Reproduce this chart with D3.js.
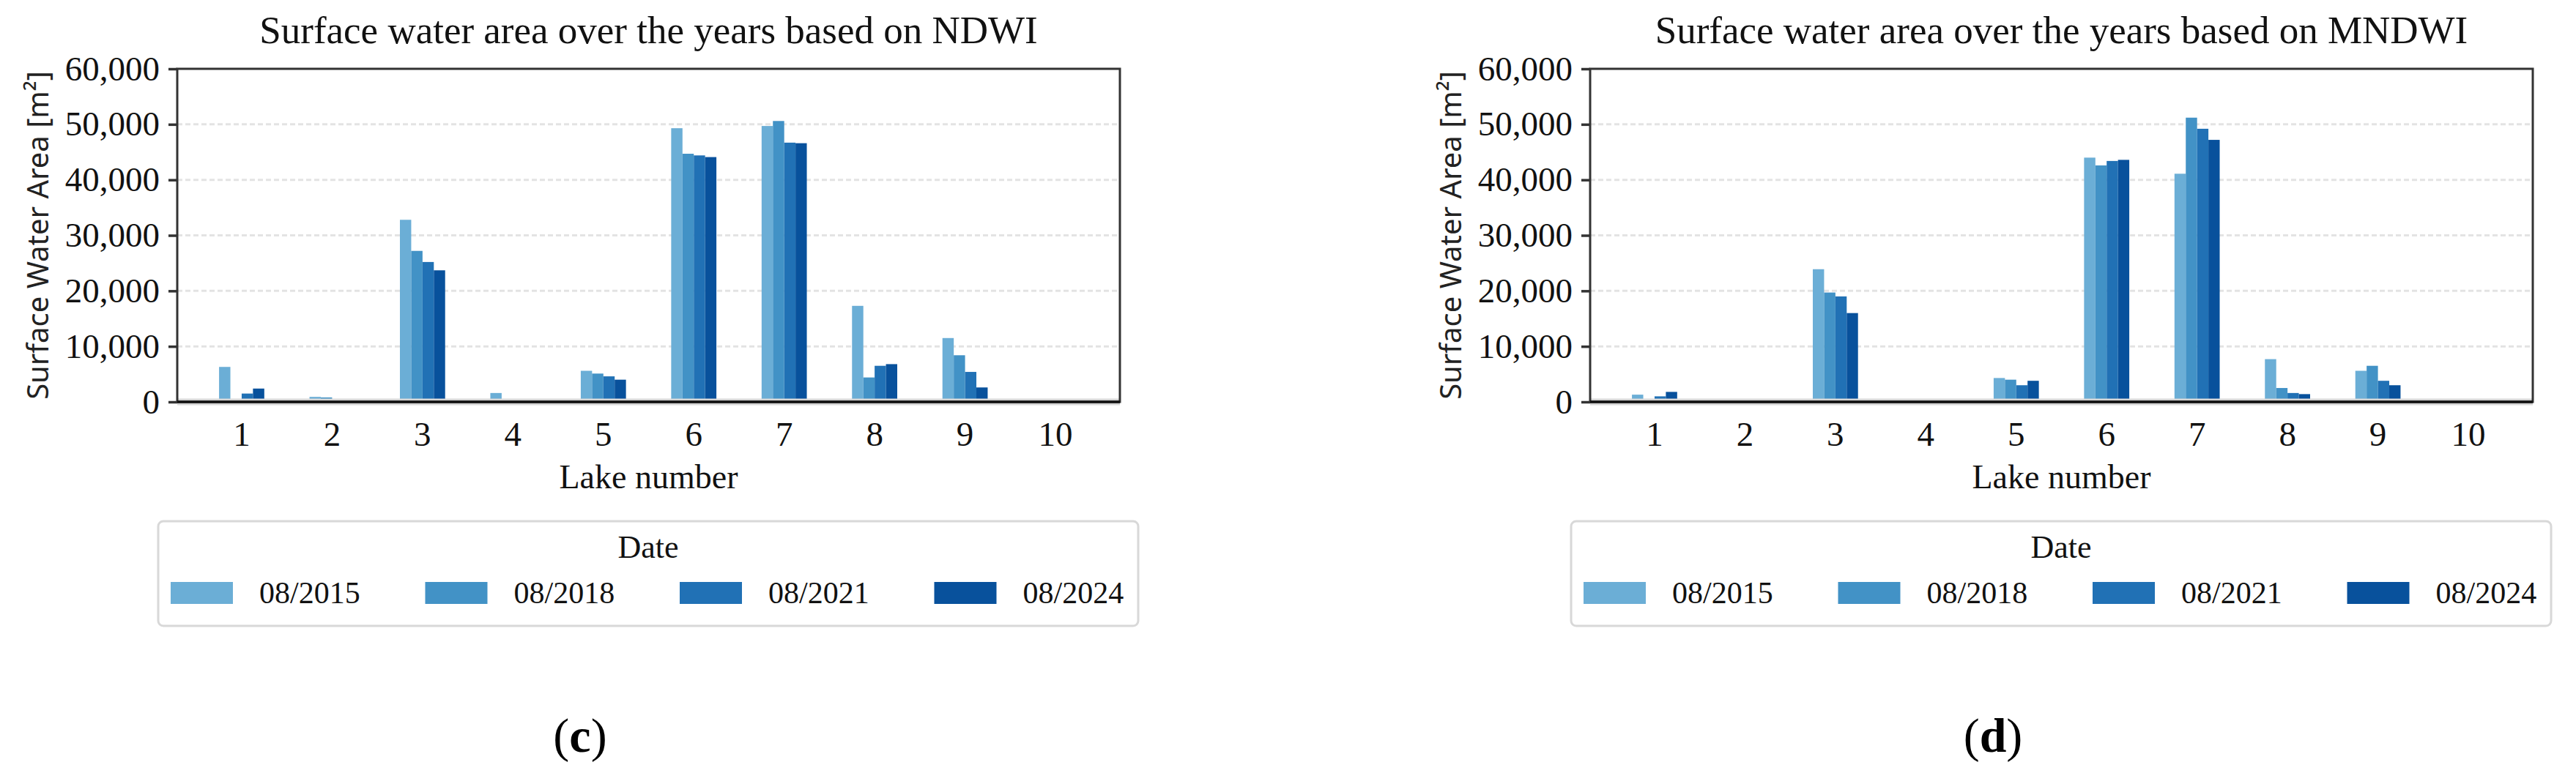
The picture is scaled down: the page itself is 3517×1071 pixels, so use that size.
<!DOCTYPE html>
<html>
<head>
<meta charset="utf-8">
<script src="https://cdn.jsdelivr.net/npm/d3@7"></script>
<style>
body { margin: 0; background: #fff; }
svg { display: block; }
</style>
</head>
<body>
<div id="chart"></div>
<script>
var lakes = ['1', '2', '3', '4', '5', '6', '7', '8', '9', '10']
var dates = ['08/2015', '08/2018', '08/2021', '08/2024']
var colors = ['#6baed6', '#4292c6', '#2171b5', '#08519c']
var yTicks = [0, 10000, 20000, 30000, 40000, 50000, 60000]

// one row per lake, one value per date
var ndwi = [
  [6300, 0, 1500, 2400],
  [900, 800, 50, 0],
  [32800, 27200, 25200, 23700],
  [1600, 200, 0, 250],
  [5600, 5100, 4600, 4000],
  [49300, 44700, 44400, 44100],
  [49700, 50600, 46700, 46600],
  [17300, 4400, 6500, 6800],
  [11500, 8400, 5400, 2600],
  [0, 0, 0, 0]
]

var mndwi = [
  [1300, 0, 1000, 1800],
  [0, 400, 0, 0],
  [23900, 19700, 19000, 16000],
  [0, 0, 0, 0],
  [4300, 4000, 3000, 3800],
  [44000, 42600, 43400, 43600],
  [41100, 51200, 49200, 47200],
  [7700, 2500, 1600, 1400],
  [5600, 6500, 3800, 3000],
  [0, 0, 0, 0]
]

var panels = [
  {title: 'Surface water area over the years based on NDWI', rows: ndwi, tag: 'c', dx: 0},
  {title: 'Surface water area over the years based on MNDWI', rows: mndwi, tag: 'd', dx: 1929}
]

var serif = '"Liberation Serif", "DejaVu Serif", serif'
var sans = '"Noto Sans", "Open Sans", sans-serif'

var svg = d3.select('#chart').append('svg')
  .attr('width', 3517)
  .attr('height', 1071)

var margin = {left: 242, top: 94}
var width = 1287, height = 455

panels.forEach(function(p) {
  var g = svg.append('g')
    .attr('transform', 'translate(' + (margin.left + p.dx) + ',' + margin.top + ')')

  var x = d3.scaleBand().domain(lakes).range([0, width])
    .paddingInner(0.5).paddingOuter(0.4625)
  var x1 = d3.scaleBand().domain(dates).range([0, x.bandwidth()])
  var y = d3.scaleLinear().domain([0, 60000]).range([height, 0])

  // grid
  g.append('g').selectAll('line')
    .data(yTicks.slice(1, -1))
    .join('line')
    .attr('x1', 0).attr('x2', width)
    .attr('y1', y).attr('y2', y)
    .attr('stroke', '#e3e3e3')
    .attr('stroke-width', 3)
    .attr('stroke-dasharray', '7 4')

  var lake = g.append('g').selectAll('g')
    .data(p.rows)
    .join('g')
    .attr('transform', function(d, i) { return 'translate(' + x(lakes[i]) + ',0)' })

  lake.selectAll('rect')
    .data(function(d) { return d })
    .join('rect')
    .attr('x', function(d, i) { return x1(dates[i]) })
    .attr('width', x1.bandwidth())
    .attr('y', function(d) { return y(d) })
    .attr('height', function(d) { return height - y(d) })
    .attr('fill', function(d, i) { return colors[i] })

  // zero line with its grey halo
  g.append('line')
    .attr('x1', 0).attr('x2', width)
    .attr('y1', height).attr('y2', height)
    .attr('stroke', '#d6d6d6').attr('stroke-width', 9)

  g.append('rect')
    .attr('width', width).attr('height', height)
    .attr('fill', 'none')
    .attr('stroke', '#333')
    .attr('stroke-width', 3)

  g.append('line')
    .attr('x1', 0).attr('x2', width)
    .attr('y1', height).attr('y2', height)
    .attr('stroke', '#111').attr('stroke-width', 3.5)

  var yAxis = g.append('g')
    .call(d3.axisLeft(y).tickValues(yTicks).tickFormat(d3.format(',')).tickSize(12).tickPadding(12))
  yAxis.select('.domain').remove()
  yAxis.selectAll('line').attr('stroke', '#333').attr('stroke-width', 3.5)
  yAxis.selectAll('text')
    .attr('font-family', serif)
    .attr('font-size', 47)
    .attr('fill', '#111')

  var xAxis = g.append('g')
    .attr('transform', 'translate(0,' + height + ')')
    .call(d3.axisBottom(x).tickSize(0).tickPadding(27))
  xAxis.select('.domain').remove()
  xAxis.selectAll('text')
    .attr('font-family', serif)
    .attr('font-size', 47)
    .attr('fill', '#111')

  g.append('text')
    .attr('x', width / 2).attr('y', -35)
    .attr('text-anchor', 'middle')
    .attr('font-family', serif)
    .attr('font-size', 53)
    .attr('fill', '#111')
    .text(p.title)

  g.append('text')
    .attr('x', width / 2).attr('y', 573)
    .attr('text-anchor', 'middle')
    .attr('font-family', serif)
    .attr('font-size', 46)
    .attr('fill', '#111')
    .text('Lake number')

  g.append('text')
    .attr('transform', 'translate(-176,' + (height / 2) + ') rotate(-90)')
    .attr('text-anchor', 'middle')
    .attr('font-family', sans)
    .attr('font-size', 40)
    .attr('fill', '#222')
    .text('Surface Water Area [m²]')

  // legend
  var leg = g.append('g').attr('transform', 'translate(-26,618)')
  leg.append('rect')
    .attr('width', 1338).attr('height', 143)
    .attr('rx', 7)
    .attr('fill', '#fff')
    .attr('stroke', '#d8d8d8')
    .attr('stroke-width', 3)
  leg.append('text')
    .attr('x', 669).attr('y', 50)
    .attr('text-anchor', 'middle')
    .attr('font-family', serif)
    .attr('font-size', 44)
    .attr('fill', '#111')
    .text('Date')

  var item = leg.selectAll('g.item')
    .data(dates)
    .join('g')
    .attr('class', 'item')
    .attr('transform', function(d, i) { return 'translate(' + (17 + i * 347.5) + ',83)' })
  item.append('rect')
    .attr('width', 85).attr('height', 30)
    .attr('fill', function(d, i) { return colors[i] })
  item.append('text')
    .attr('x', 121).attr('y', 29)
    .attr('font-family', serif)
    .attr('font-size', 42)
    .attr('fill', '#111')
    .text(function(d) { return d })

  // panel tag
  var tag = svg.append('text')
    .attr('x', 792 + p.dx).attr('y', 1027)
    .attr('text-anchor', 'middle')
    .attr('font-family', serif)
    .attr('font-size', 66)
    .attr('fill', '#000')
  tag.append('tspan').text('(')
  tag.append('tspan').attr('font-weight', 'bold').text(p.tag)
  tag.append('tspan').text(')')
})
</script>
</body>
</html>
